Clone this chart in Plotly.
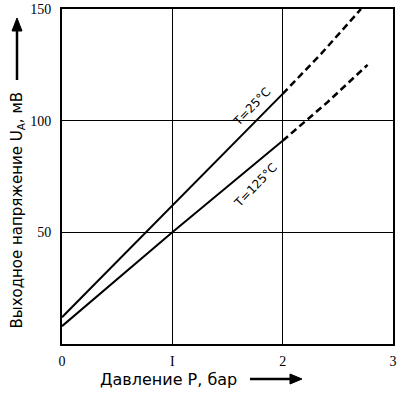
import plotly.graph_objects as go

# Data
p_25_solid = [0, 0.5, 1, 1.5, 2]
u_25_solid = [12, 37, 62, 87, 112]
p_25_dash = [2, 2.35, 2.71]
u_25_dash = [112, 130, 150]

p_125_solid = [0, 0.5, 1, 1.5, 2]
u_125_solid = [8, 29, 50, 70.5, 91]
p_125_dash = [2, 2.4, 2.77]
u_125_dash = [91, 108, 125]

x_ticks = [0, 1, 2, 3]
x_tick_labels = ["0", "I", "2", "3"]
y_ticks = [50, 100, 150]
y_tick_labels = ["50", "100", "150"]

W, H = 405, 393
L, R, T, B = 62, 12, 9, 49
pw, ph = W - L - R, H - T - B


def px(xp):
    return (xp - L) / pw


def py(yp):
    return (H - B - yp) / ph


fig = go.Figure()
solid = dict(color="black", width=2)
dashed = dict(color="black", width=2.5, dash="7px,4px")
fig.add_trace(go.Scatter(x=p_25_solid, y=u_25_solid, mode="lines", line=solid))
fig.add_trace(go.Scatter(x=p_25_dash, y=u_25_dash, mode="lines", line=dashed))
fig.add_trace(go.Scatter(x=p_125_solid, y=u_125_solid, mode="lines", line=solid))
fig.add_trace(go.Scatter(x=p_125_dash, y=u_125_dash, mode="lines", line=dashed))

tick_font = dict(family="Liberation Serif", size=14, color="black")
common_axis = dict(showgrid=True, gridcolor="black", gridwidth=1,
                   showline=True, linecolor="black", linewidth=2, mirror=True,
                   zeroline=False, ticks="", tickfont=tick_font, automargin=False)
fig.update_xaxes(range=[0, 3], tickvals=x_ticks, ticktext=x_tick_labels,
                 ticklabelstandoff=3, **common_axis)
fig.update_yaxes(range=[0, 150], tickvals=y_ticks, ticktext=y_tick_labels,
                 ticklabelstandoff=6, **common_axis)

label_font = dict(family="DejaVu Sans", size=12, color="black")

fig.add_annotation(text="Давление P, бар", xref="paper", yref="paper",
                   x=px(98), y=py(379), xanchor="left", yanchor="middle",
                   showarrow=False, font=dict(family="DejaVu Sans", size=16, color="black"))
fig.add_annotation(text="Выходное напряжение U<sub>A</sub>, мВ", xref="paper", yref="paper",
                   x=px(17), y=py(331), xanchor="center", yanchor="bottom", textangle=-90,
                   showarrow=False, font=dict(family="DejaVu Sans", size=15, color="black"))
fig.add_annotation(text="T=25°C", x=1.72, y=106, xref="x", yref="y", textangle=-46,
                   showarrow=False, font=label_font)
fig.add_annotation(text="T=125°C", x=1.76, y=71, xref="x", yref="y", textangle=-46,
                   showarrow=False, font=label_font)

# arrows next to the axis titles, drawn as shapes in pixel-derived paper coords
shapes = []
shapes.append(dict(type="line", xref="paper", yref="paper",
                   x0=px(250), y0=py(379), x1=px(292), y1=py(379),
                   line=dict(color="black", width=2.5)))
shapes.append(dict(type="path", xref="paper", yref="paper",
                   path=f"M {px(302)} {py(379)} L {px(290)} {py(374)} L {px(290)} {py(384)} Z",
                   fillcolor="black", line=dict(color="black", width=1)))
shapes.append(dict(type="line", xref="paper", yref="paper",
                   x0=px(17), y0=py(80), x1=px(17), y1=py(30),
                   line=dict(color="black", width=2.5)))
shapes.append(dict(type="path", xref="paper", yref="paper",
                   path=f"M {px(17)} {py(18)} L {px(12)} {py(31)} L {px(22)} {py(31)} Z",
                   fillcolor="black", line=dict(color="black", width=1)))

fig.update_layout(width=W, height=H, margin=dict(l=L, r=R, t=T, b=B, autoexpand=False),
                  paper_bgcolor="white", plot_bgcolor="white", showlegend=False,
                  shapes=shapes)

fig.write_html("out.html", config={"displayModeBar": False},
               post_script="document.body.style.margin='0px';")
